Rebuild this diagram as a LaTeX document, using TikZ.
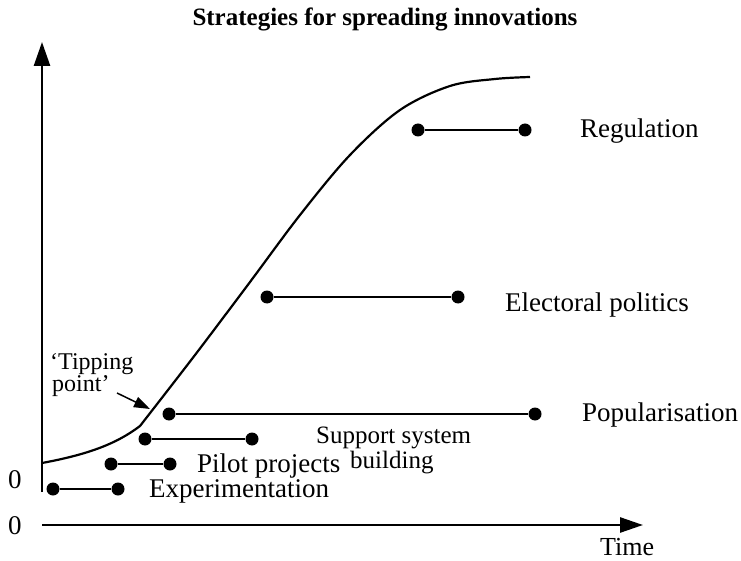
\documentclass[tikz,border=0pt]{standalone}
\usepackage{fontspec}
\setmainfont{Liberation Serif}
\usetikzlibrary{arrows.meta}
\tikzset{
  dot/.style={circle,fill=black,inner sep=0pt,minimum size=13pt},
  bar/.style={line width=2.4pt},
  lbl/.style={font=\fontsize{27}{27}\selectfont,inner sep=0pt,anchor=base west},
  axis/.style={line width=2.6pt},
}
\begin{document}
\begin{tikzpicture}[x=1pt,y=-1pt]
\useasboundingbox (0,0) rectangle (741,561);
% title
\node[font=\fontsize{25}{25}\selectfont\bfseries,inner sep=0pt,anchor=base] (title) at (385,26) {Strategies for spreading innovations};
% axes
\coordinate (o1) at (42,492);
\coordinate (ytop) at (42,42);
\coordinate (xs) at (42,525);
\coordinate (xtip) at (643,525);
\draw[axis,-{Triangle[length=24pt,width=16pt]}] (o1) -- (ytop);
\draw[axis,-{Triangle[length=23pt,width=15pt]}] (xs) -- (xtip);
\node[lbl,anchor=center] (zeroA) at (15,480) {0};
\node[lbl,anchor=center] (zeroB) at (15,526) {0};
\node[lbl,font=\fontsize{26}{26}\selectfont] (time) at (600,555) {Time};
% curve
\draw[line width=2.2pt,line join=round] (42,463) .. controls (85,455) and (115,445) .. (140,426)
  plot[smooth,tension=0.55] coordinates {(140,426) (195,355) (250,282) (300,215) (350,155) (400,110) (450,86) (495,79) (530,77)};
% tipping point
\node[lbl,font=\fontsize{24}{24}\selectfont] (tip1) at (50,369) {`Tipping};
\node[lbl,font=\fontsize{24}{24}\selectfont] (tip2) at (52,391) {point'};
\coordinate (tipA) at (117,393);
\coordinate (tipB) at (150,409);
\draw[line width=1.5pt,-{Triangle[length=16pt,width=11pt]}] (tipA) -- (tipB);
% dumbbells
\node[dot] (r1) at (418,130) {}; \node[dot] (r2) at (525,130) {};
\draw[bar] (r1) -- (r2);
\node[lbl] (reg) at (580,138) {Regulation};
\node[dot] (e1) at (267,297) {}; \node[dot] (e2) at (458,297) {};
\draw[bar] (e1) -- (e2);
\node[lbl] (ele) at (505,311) {Electoral politics};
\node[dot] (p1) at (169,414) {}; \node[dot] (p2) at (535,414) {};
\draw[bar] (p1) -- (p2);
\node[lbl] (pop) at (582,421) {Popularisation};
\node[dot] (s1) at (145,439) {}; \node[dot] (s2) at (252,439) {};
\draw[bar] (s1) -- (s2);
\node[lbl,font=\fontsize{25}{25}\selectfont] (sup1) at (316,443) {Support system};
\node[lbl,font=\fontsize{25}{25}\selectfont] (sup2) at (350,468) {building};
\node[dot] (pi1) at (111,464) {}; \node[dot] (pi2) at (170,464) {};
\draw[bar] (pi1) -- (pi2);
\node[lbl] (pil) at (197,472) {Pilot projects};
\node[dot] (x1) at (53,489) {}; \node[dot] (x2) at (118,489) {};
\draw[bar] (x1) -- (x2);
\node[lbl] (exp) at (149,497) {Experimentation};
\end{tikzpicture}
\end{document}
